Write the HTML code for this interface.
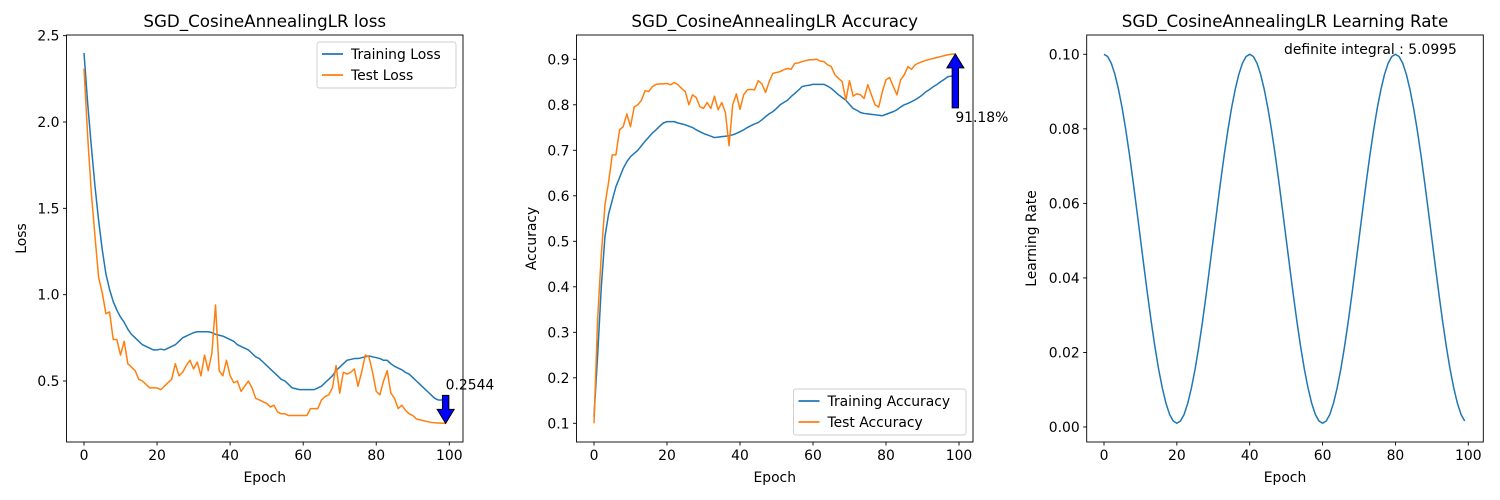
<!DOCTYPE html>
<html><head><meta charset="utf-8">
<style>
html,body{margin:0;padding:0;background:#fff;}
svg{display:block;font-family:"DejaVu Sans","Liberation Sans",sans-serif;}
</style></head>
<body>
<svg id="fig" width="1500" height="500" viewBox="0 0 1500 500" xmlns="http://www.w3.org/2000/svg"></svg>
<script>
const epochs = Array.from({length:100},(_,i)=>i);
const trainLoss = [2.40,2.11,1.86,1.63,1.43,1.26,1.12,1.03,0.96,0.91,
0.87,0.84,0.80,0.77,0.75,0.73,0.71,0.70,0.69,0.68,
0.68,0.685,0.68,0.69,0.70,0.71,0.73,0.75,0.76,0.77,
0.78,0.785,0.785,0.785,0.785,0.78,0.77,0.765,0.76,0.75,
0.74,0.73,0.71,0.70,0.69,0.68,0.66,0.64,0.63,0.61,
0.59,0.57,0.55,0.53,0.51,0.50,0.48,0.46,0.455,0.45,
0.45,0.45,0.45,0.45,0.46,0.47,0.49,0.51,0.53,0.56,
0.58,0.60,0.62,0.625,0.63,0.63,0.635,0.64,0.645,0.64,
0.635,0.63,0.62,0.62,0.60,0.585,0.575,0.565,0.55,0.54,
0.52,0.50,0.48,0.46,0.44,0.42,0.40,0.39,0.39,0.39];
const testLoss = [2.31,1.92,1.59,1.34,1.10,1.01,0.89,0.90,0.74,0.74,
0.65,0.73,0.60,0.58,0.56,0.51,0.50,0.48,0.46,0.46,
0.46,0.45,0.47,0.49,0.51,0.60,0.53,0.55,0.59,0.62,
0.57,0.61,0.53,0.65,0.56,0.66,0.94,0.56,0.53,0.62,
0.53,0.49,0.50,0.44,0.47,0.50,0.46,0.40,0.39,0.38,
0.37,0.35,0.36,0.32,0.31,0.31,0.30,0.30,0.30,0.30,
0.30,0.30,0.34,0.34,0.34,0.39,0.41,0.42,0.46,0.59,
0.43,0.55,0.54,0.55,0.57,0.47,0.55,0.65,0.64,0.55,
0.44,0.42,0.50,0.56,0.43,0.40,0.34,0.36,0.33,0.31,
0.30,0.28,0.275,0.27,0.265,0.26,0.258,0.257,0.256,0.2544];
const trainAcc = [0.115,0.25,0.40,0.51,0.56,0.59,0.62,0.64,0.66,0.675,
0.686,0.693,0.70,0.71,0.72,0.729,0.738,0.745,0.753,0.760,
0.763,0.763,0.763,0.760,0.758,0.756,0.753,0.750,0.745,0.741,
0.737,0.734,0.731,0.728,0.729,0.730,0.731,0.732,0.734,0.737,
0.741,0.745,0.750,0.754,0.758,0.761,0.767,0.774,0.780,0.785,
0.792,0.800,0.805,0.810,0.818,0.825,0.832,0.840,0.842,0.843,
0.845,0.845,0.845,0.845,0.841,0.836,0.829,0.822,0.816,0.810,
0.801,0.792,0.788,0.783,0.781,0.780,0.779,0.778,0.777,0.776,
0.779,0.782,0.785,0.789,0.795,0.800,0.803,0.807,0.811,0.816,
0.822,0.829,0.834,0.840,0.845,0.851,0.856,0.862,0.863,0.863];
const testAcc = [0.10,0.33,0.47,0.58,0.63,0.69,0.69,0.745,0.752,0.78,
0.752,0.795,0.80,0.81,0.831,0.829,0.84,0.845,0.846,0.846,
0.847,0.844,0.849,0.844,0.836,0.829,0.80,0.822,0.816,0.796,
0.792,0.805,0.792,0.819,0.789,0.805,0.783,0.71,0.80,0.824,
0.79,0.822,0.833,0.834,0.833,0.853,0.846,0.827,0.851,0.869,
0.871,0.873,0.877,0.88,0.878,0.891,0.892,0.895,0.897,0.899,
0.899,0.90,0.896,0.895,0.888,0.884,0.866,0.858,0.851,0.81,
0.853,0.819,0.824,0.822,0.814,0.844,0.822,0.80,0.795,0.829,
0.855,0.86,0.84,0.822,0.855,0.866,0.884,0.878,0.888,0.892,
0.895,0.898,0.900,0.902,0.904,0.906,0.908,0.910,0.911,0.9118];
const lrValues = [0.1,0.0994,0.0976,0.0946,0.0905,0.0855,0.0796,0.0730,0.0658,0.0582,
0.0505,0.0428,0.0352,0.0280,0.0214,0.0155,0.0105,0.0064,0.0034,0.0016,
0.0010,0.0016,0.0034,0.0064,0.0105,0.0155,0.0214,0.0280,0.0352,0.0428,
0.0505,0.0582,0.0658,0.0730,0.0796,0.0855,0.0905,0.0946,0.0976,0.0994,
0.1,0.0994,0.0976,0.0946,0.0905,0.0855,0.0796,0.0730,0.0658,0.0582,
0.0505,0.0428,0.0352,0.0280,0.0214,0.0155,0.0105,0.0064,0.0034,0.0016,
0.0010,0.0016,0.0034,0.0064,0.0105,0.0155,0.0214,0.0280,0.0352,0.0428,
0.0505,0.0582,0.0658,0.0730,0.0796,0.0855,0.0905,0.0946,0.0976,0.0994,
0.1,0.0994,0.0976,0.0946,0.0905,0.0855,0.0796,0.0730,0.0658,0.0582,
0.0505,0.0428,0.0352,0.0280,0.0214,0.0155,0.0105,0.0064,0.0034,0.0016];
const xTicks = [0,20,40,60,80,100];
const lossTicks = [0.5,1.0,1.5,2.0,2.5];
const accTicks = [0.1,0.2,0.3,0.4,0.5,0.6,0.7,0.8,0.9];
const lrTicks = [0.00,0.02,0.04,0.06,0.08,0.10];

const NS="http://www.w3.org/2000/svg";
const fig=document.getElementById('fig');
function mk(tag,attrs,parent){const e=document.createElementNS(NS,tag);for(const k in attrs)e.setAttribute(k,attrs[k]);(parent||fig).appendChild(e);return e;}
function txt(s,attrs,parent){const e=mk('text',attrs,parent);e.textContent=s;return e;}

function chart(cfg){
  const g=mk('g',{});
  
  
  const sx=e=>cfg.x0+(e-0)*(cfg.x100-cfg.x0)/100;
  const sy=v=>cfg.yA+(v-cfg.vA)*(cfg.yB-cfg.yA)/(cfg.vB-cfg.vA);
  cfg.series.forEach(s=>{
    const d=s.data.map((v,i)=>(i?'L':'M')+sx(epochs[i]).toFixed(2)+' '+sy(v).toFixed(2)).join(' ');
    const p=mk('path',{d:d,fill:'none',stroke:s.color,'stroke-width':1.5,'stroke-linejoin':'round'},g);
    
    
  });
  const fr=mk('rect',{x:cfg.L,y:cfg.T,width:cfg.R-cfg.L,height:cfg.B-cfg.T,fill:'none',stroke:'#000','stroke-width':0.9},g);
  
  
  xTicks.forEach(t=>{
    const x=sx(t);
    mk('line',{x1:x,x2:x,y1:cfg.B,y2:cfg.B+3.5,stroke:'#000','stroke-width':0.9},g);
    const l=txt(String(t),{x:x,y:cfg.B+18,'font-size':13.9,'text-anchor':'middle',fill:'#000'},g);
    
    
  });
  cfg.yTicks.forEach(t=>{
    const y=sy(t);
    mk('line',{x1:cfg.L-3.5,x2:cfg.L,y1:y,y2:y,stroke:'#000','stroke-width':0.9},g);
    const l=txt(t.toFixed(cfg.dec),{x:cfg.L-7,y:y+5,'font-size':13.9,'text-anchor':'end',fill:'#000'},g);
    
    
  });
  const ti=txt(cfg.title,{x:(cfg.L+cfg.R)/2,y:cfg.T-8,'font-size':16.7,'text-anchor':'middle',fill:'#000'},g);
  
  
  const xl=txt('Epoch',{x:(cfg.L+cfg.R)/2,y:482,'font-size':13.9,'text-anchor':'middle',fill:'#000'},g);
  
  
  const yc=(cfg.T+cfg.B)/2;
  const yl=txt(cfg.ylabel,{x:cfg.ylx,y:yc,'font-size':13.9,'text-anchor':'middle',fill:'#000',transform:`rotate(-90 ${cfg.ylx} ${yc})`},g);
  
  
  if(cfg.legend){
    const lg=cfg.legend;
    const lgG=mk('g',{},g);
    
    
    mk('rect',{x:lg.x,y:lg.y,width:lg.w,height:46,rx:2.5,fill:'#fff','fill-opacity':0.8,stroke:'#ccc','stroke-width':0.9},lgG);
    cfg.series.forEach((s,i)=>{
      const yy=lg.y+12+i*21;
      const en=mk('g',{},lgG);
      
      
      mk('line',{x1:lg.x+5,x2:lg.x+26,y1:yy,y2:yy,stroke:s.color,'stroke-width':1.8},en);
      txt(s.label,{x:lg.x+34,y:yy+5,'font-size':13.9,fill:'#000'},en);
    });
  }
  return {g,sx,sy};
}

const c1=chart({name:'loss-chart',L:66.5,R:463,T:35,B:442,x0:84,x100:449.3,yA:381,vA:0.5,yB:122,vB:2.0,yTicks:lossTicks,dec:1,
  title:'SGD_CosineAnnealingLR loss',ylabel:'Loss',ylx:26,
  series:[{data:trainLoss,color:'#1f77b4',name:'training-loss-line',label:'Training Loss'},{data:testLoss,color:'#ff7f0e',name:'test-loss-line',label:'Test Loss'}],
  legend:{x:317,y:42,w:139}});
const c2=chart({name:'accuracy-chart',L:576.5,R:973,T:35,B:442,x0:594,x100:959,yA:423.3,vA:0.1,yB:59.3,vB:0.9,yTicks:accTicks,dec:1,
  title:'SGD_CosineAnnealingLR Accuracy',ylabel:'Accuracy',ylx:536,
  series:[{data:trainAcc,color:'#1f77b4',name:'training-accuracy-line',label:'Training Accuracy'},{data:testAcc,color:'#ff7f0e',name:'test-accuracy-line',label:'Test Accuracy'}],
  legend:{x:793.5,y:389,w:172.5}});
const c3=chart({name:'learning-rate-chart',L:1086.7,R:1483.3,T:35,B:442,x0:1104,x100:1468.3,yA:427,vA:0,yB:54.3,vB:0.1,yTicks:lrTicks,dec:2,
  title:'SGD_CosineAnnealingLR Learning Rate',ylabel:'Learning Rate',ylx:1036,
  series:[{data:lrValues,color:'#1f77b4',name:'learning-rate-line',label:'Learning Rate'}]});

function arrow(g,x,yTail,yTip,name){
  const dir=yTip>yTail?1:-1;
  const hl=14, hw=8.5, sw=3.2;
  const yb=yTip-dir*hl;
  const pts=[[x-sw,yTail],[x+sw,yTail],[x+sw,yb],[x+hw,yb],[x,yTip],[x-hw,yb],[x-sw,yb]].map(p=>p.join(',')).join(' ');
  const a=mk('polygon',{points:pts,fill:'#0000ff',stroke:'#000','stroke-width':1},g);
  
  
}
const minIdx=testLoss.indexOf(Math.min(...testLoss));
const ax1=c1.sx(minIdx), ay1=c1.sy(testLoss[minIdx]);
arrow(c1.g,ax1,ay1-28,ay1,'min-loss-arrow');
const t1=txt(testLoss[minIdx].toFixed(4),{x:ax1,y:ay1-34,'font-size':13.9,fill:'#000'},c1.g);



const maxIdx=testAcc.indexOf(Math.max(...testAcc));
const ax2=c2.sx(maxIdx), ay2=c2.sy(testAcc[maxIdx]);
arrow(c2.g,ax2,ay2+54,ay2,'max-accuracy-arrow');
const t2=txt((testAcc[maxIdx]*100).toFixed(2)+'%',{x:ax2,y:ay2+68,'font-size':13.9,fill:'#000'},c2.g);



const t3=txt('definite integral : 5.0995',{x:1284,y:54,'font-size':13.9,fill:'#000'},c3.g);


</script>
</body></html>
